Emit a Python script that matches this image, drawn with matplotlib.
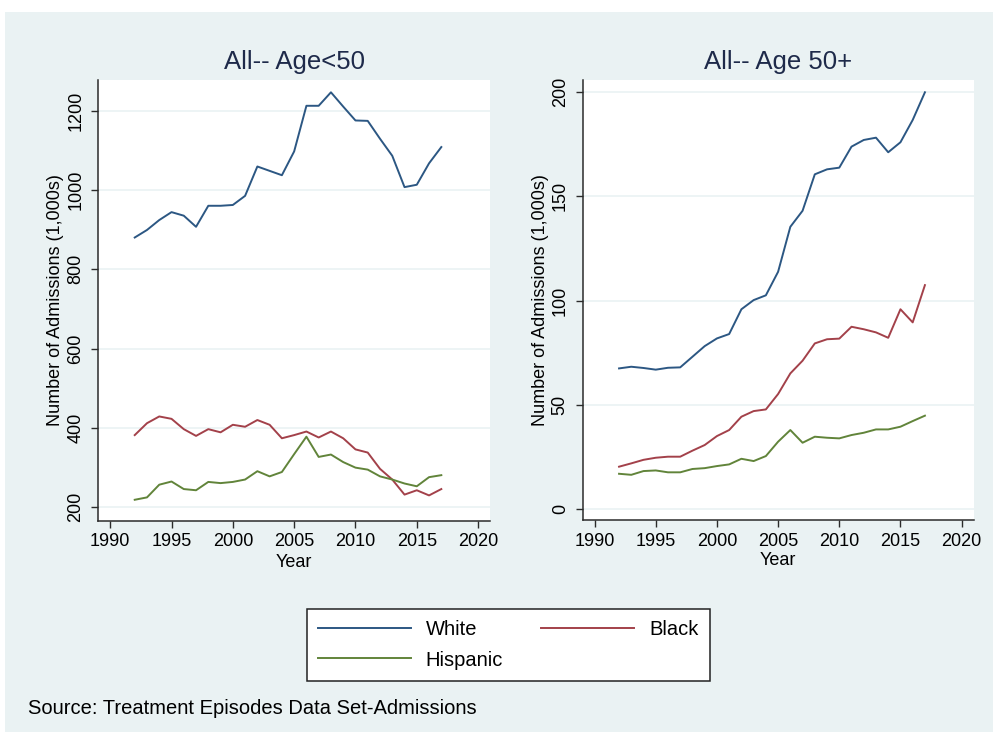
"""
Admissions by race/ethnicity, two age groups, Stata-like look.
"""

import matplotlib.pyplot as plt
from matplotlib.patches import Rectangle


YEARS = list(range(1992, 2018))

# Age < 50 (1,000s)
young_white = [880, 899, 924, 944, 935, 907, 960, 960, 962, 985, 1059, 1048, 1037,
               1097, 1212, 1212, 1246, 1210, 1175, 1174, 1129, 1086, 1007, 1013,
               1067, 1108]
young_black = [382, 412, 429, 423, 397, 380, 397, 389, 408, 403, 420, 408, 374,
               382, 391, 376, 391, 374, 346, 338, 297, 270, 232, 243, 230, 246]
young_hispanic = [219, 225, 257, 265, 246, 243, 264, 261, 264, 270, 291, 278, 289,
                  334, 378, 327, 333, 314, 300, 295, 278, 270, 260, 253, 276, 281]

# Age 50+ (1,000s)
old_white = [67.4, 68.2, 67.6, 66.8, 67.7, 67.9, 73.0, 78.1, 81.8, 83.9, 95.8,
             100.2, 102.5, 113.8, 135.4, 143.1, 160.6, 163.0, 163.8, 173.9, 177.1,
             178.2, 171.2, 176.0, 186.7, 200.0]
old_black = [20.2, 21.8, 23.5, 24.5, 25.0, 25.0, 27.9, 30.6, 34.9, 37.8, 44.2,
             46.9, 47.7, 55.1, 65.0, 71.1, 79.4, 81.4, 81.7, 87.4, 86.2, 84.7,
             82.1, 95.8, 89.5, 107.4]
old_hispanic = [16.8, 16.3, 18.1, 18.4, 17.5, 17.5, 19.1, 19.5, 20.5, 21.3, 24.0,
                22.9, 25.3, 32.2, 37.8, 31.7, 34.6, 34.1, 33.8, 35.4, 36.5, 38.1,
                38.1, 39.4, 42.1, 44.7]

X_TICKS = [1990, 1995, 2000, 2005, 2010, 2015, 2020]
YOUNG_TICKS = [200, 400, 600, 800, 1000, 1200]
OLD_TICKS = [0, 50, 100, 150, 200]

SERIES_NAMES = ["White", "Black", "Hispanic"]
COLORS = {"White": "#2c5783", "Black": "#a3414a", "Hispanic": "#61843a"}

BG = "#eaf2f3"
TITLE_COLOR = "#1e2a4a"
FONT = "Liberation Sans"


def style_axis(ax, yticks, ylim):
    ax.set_facecolor("white")
    ax.set_xlim(1989.03, 2020.97)
    ax.set_ylim(*ylim)
    ax.set_xticks(X_TICKS)
    ax.set_yticks(yticks)
    ax.set_yticklabels([str(t) for t in yticks], rotation=90, va="center")
    for side in ("top", "right"):
        ax.spines[side].set_visible(False)
    for side in ("left", "bottom"):
        ax.spines[side].set_color("#2b2b2b")
        ax.spines[side].set_linewidth(1.1)
    ax.tick_params(axis="both", direction="out", length=5, width=1.0,
                   color="#2b2b2b", labelsize=13)
    ax.tick_params(axis="y", pad=5)
    ax.tick_params(axis="x", pad=4)
    ax.grid(axis="y", color=BG, linewidth=1.2)
    ax.set_axisbelow(True)

    ax.set_xlabel("Year", fontsize=13)
    ax.xaxis.label.set_va("center")
    ax.xaxis.set_label_coords(0.5, -0.093)
    ax.set_ylabel("Number of Admissions (1,000s)", fontsize=13)
    ax.yaxis.label.set_va("center")
    ax.yaxis.set_label_coords(-0.108, 0.5)


def create_figure(output_path):
    plt.rcParams["font.family"] = [FONT, "DejaVu Sans"]
    fig = plt.figure(figsize=(9.93, 7.32), dpi=100, facecolor="white")

    # Stata graph region
    fig.patches.append(Rectangle((5 / 993, 0), 1, 1 - 12 / 732,
                                 transform=fig.transFigure, facecolor=BG,
                                 edgecolor="none", zorder=-10))

    ax_l = fig.add_axes([98.3 / 993, 1 - 521 / 732, 391.7 / 993, 441 / 732])
    ax_r = fig.add_axes([582.7 / 993, 1 - 520 / 732, 390.8 / 993, 440 / 732])

    panels = [
        (ax_l, "All-- Age<50", [young_white, young_black, young_hispanic],
         YOUNG_TICKS, (165.5, 1277)),
        (ax_r, "All-- Age 50+", [old_white, old_black, old_hispanic],
         OLD_TICKS, (-5.4, 205.9)),
    ]

    handles = {}
    for ax, title, series, yticks, ylim in panels:
        for name, values in zip(SERIES_NAMES, series):
            line, = ax.plot(YEARS, values, color=COLORS[name], linewidth=1.4,
                            label=name)
            handles[name] = line
        style_axis(ax, yticks, ylim)
        ax.text(0.5, 1.041, title, transform=ax.transAxes, ha="center",
                va="center", fontsize=18.5, color=TITLE_COLOR)

    # column-first fill: White/Hispanic in col 1, Black in col 2
    order = ["White", "Hispanic", "Black"]
    leg = fig.legend([handles[n] for n in order], order, loc="center",
                     bbox_to_anchor=(508.25 / 993, 1 - 645 / 732), ncol=2,
                     fontsize=14.5, frameon=True, fancybox=False,
                     handlelength=4.6, handletextpad=0.75, columnspacing=1.9,
                     labelspacing=0.55, borderpad=0.55)
    frame = leg.get_frame()
    frame.set_edgecolor("#222222")
    frame.set_linewidth(1.1)
    frame.set_facecolor("white")
    frame.set_alpha(1)

    fig.text(28.5 / 993, 1 - 709 / 732, "Source: Treatment Episodes Data Set-Admissions",
             ha="left", va="center", fontsize=14.5)

    fig.savefig(output_path, dpi=100, facecolor="white")
    plt.close(fig)


def main():
    create_figure("out.png")


if __name__ == "__main__":
    main()
